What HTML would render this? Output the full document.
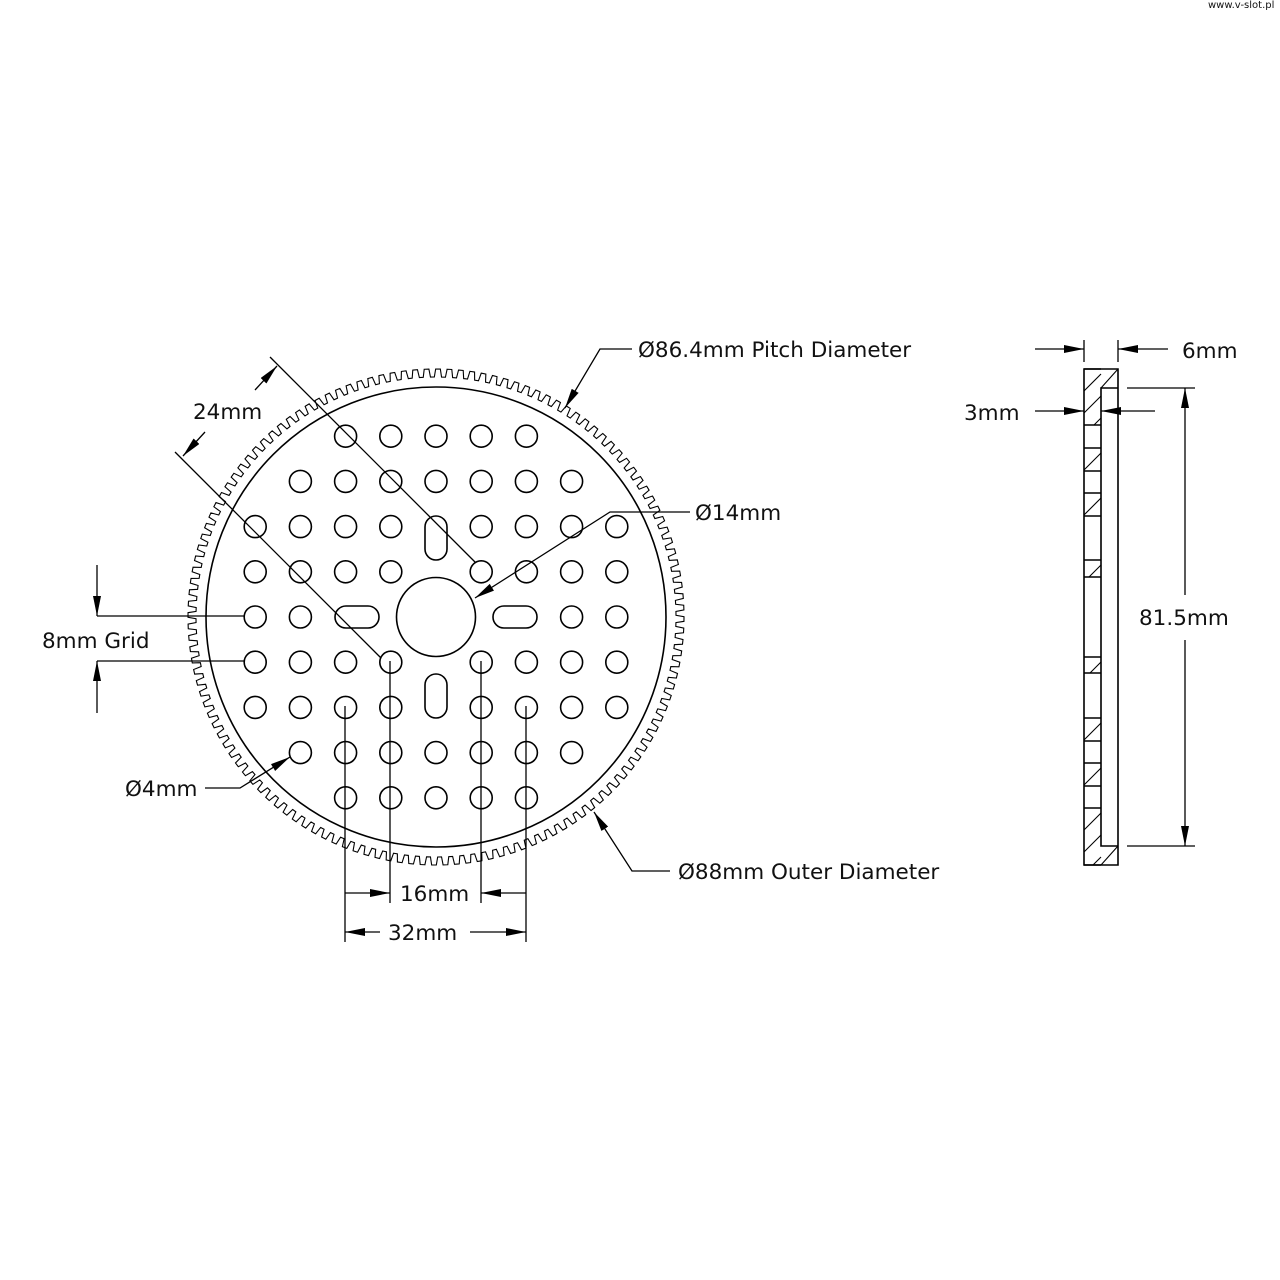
<!DOCTYPE html>
<html><head><meta charset="utf-8"><style>
html,body{margin:0;padding:0;background:#fff;}
svg{display:block}
text{font-family:"DejaVu Sans","Liberation Sans",sans-serif;font-size:21.5px;fill:#111;}
</style></head><body>
<svg id="s" width="1280" height="1280" viewBox="0 0 1280 1280" xmlns="http://www.w3.org/2000/svg">
<defs>
<marker id="a" viewBox="0 0 20 8" refX="20" refY="4" markerWidth="20" markerHeight="8" markerUnits="userSpaceOnUse" orient="auto"><path d="M0,0 L20,4 L0,8 z" fill="#000"/></marker>
</defs>
<text x="1208" y="8" style="font-size:10px">www.v-slot.pl</text>
<g id="g" fill="none" stroke="#000" stroke-width="1.6"></g>
<g fill="none" stroke="#000" stroke-width="1.3">
<line x1="270" y1="357" x2="476" y2="563"/>
<line x1="175" y1="452" x2="381" y2="658"/>
<line x1="255" y1="390" x2="277" y2="366" marker-end="url(#a)"/>
<line x1="205" y1="432" x2="183" y2="456" marker-end="url(#a)"/>
<line x1="97" y1="616" x2="245" y2="616"/>
<line x1="97" y1="661" x2="245" y2="661"/>
<line x1="97" y1="565" x2="97" y2="616" marker-end="url(#a)"/>
<line x1="97" y1="713" x2="97" y2="661" marker-end="url(#a)"/>
<line x1="345" y1="706" x2="345" y2="942"/>
<line x1="390" y1="661" x2="390" y2="903"/>
<line x1="481" y1="661" x2="481" y2="903"/>
<line x1="526" y1="706" x2="526" y2="942"/>
<line x1="345" y1="893" x2="390" y2="893" marker-end="url(#a)"/>
<line x1="526" y1="893" x2="481" y2="893" marker-end="url(#a)"/>
<line x1="380" y1="932" x2="345" y2="932" marker-end="url(#a)"/>
<line x1="470" y1="932" x2="526" y2="932" marker-end="url(#a)"/>
<polyline points="205,788 240,788 290,757" marker-end="url(#a)"/>
<polyline points="690,512 610,512 475,598" marker-end="url(#a)"/>
<polyline points="632,349 600,349 565,408" marker-end="url(#a)"/>
<polyline points="670,871 632,871 594,812" marker-end="url(#a)"/>
<line x1="1084" y1="340" x2="1084" y2="362"/>
<line x1="1118" y1="340" x2="1118" y2="362"/>
<line x1="1035" y1="349" x2="1084" y2="349" marker-end="url(#a)"/>
<line x1="1168" y1="349" x2="1118" y2="349" marker-end="url(#a)"/>
<line x1="1035" y1="411" x2="1084" y2="411" marker-end="url(#a)"/>
<line x1="1155" y1="411" x2="1101" y2="411" marker-end="url(#a)"/>
<line x1="1127" y1="388" x2="1195" y2="388"/>
<line x1="1127" y1="846" x2="1195" y2="846"/>
<line x1="1185" y1="595" x2="1185" y2="388" marker-end="url(#a)"/>
<line x1="1185" y1="640" x2="1185" y2="846" marker-end="url(#a)"/>
</g>
<g id="side" fill="none" stroke="#000" stroke-width="1.6"></g>
<text x="193" y="419">24mm</text>
<text x="42" y="648">8mm Grid</text>
<text x="400" y="901">16mm</text>
<text x="388" y="940">32mm</text>
<text x="125" y="796">Ø4mm</text>
<text x="695" y="520">Ø14mm</text>
<text x="638" y="357">Ø86.4mm Pitch Diameter</text>
<text x="678" y="879">Ø88mm Outer Diameter</text>
<text x="1182" y="358">6mm</text>
<text x="964" y="420">3mm</text>
<text x="1139" y="625">81.5mm</text>
</svg>
<script>
var NS="http://www.w3.org/2000/svg",g=document.getElementById('g'),cx=436,cy=617;
function el(t,a,p){var e=document.createElementNS(NS,t);for(var k in a)e.setAttribute(k,a[k]);(p||g).appendChild(e);return e;}
var N=136,d="",Ro=248,Rr=240;
function pt(r,t){return (cx+r*Math.cos(t)).toFixed(2)+","+(cy+r*Math.sin(t)).toFixed(2);}
for(var i=0;i<N;i++){var t0=2*Math.PI*i/N,p=2*Math.PI/N;
 var a=[[Ro,t0],[Ro,t0+p*0.38],[Rr,t0+p*0.5],[Rr,t0+p*0.85],[Ro,t0+p*0.97]];
 a.forEach(function(q,j){d+=(i==0&&j==0?"M":"L")+pt(q[0],q[1]);});}
d+="Z";el('path',{d:d,'stroke-width':1.1});
el('circle',{cx:cx,cy:cy,r:230});
el('circle',{cx:cx,cy:cy,r:39.5});
var S=45.2,rows={"-4":[-2,2],"-3":[-3,3],"-2":[-4,4],"-1":[-4,4],"0":[-4,4],"1":[-4,4],"2":[-4,4],"3":[-3,3],"4":[-2,2]};
for(var r=-4;r<=4;r++){var rg=rows[r];for(var c=rg[0];c<=rg[1];c++){
 if(c==0&&(r>=-2&&r<=2))continue;
 if(r==0&&(c==-1||c==-2||c==1||c==2))continue;
 el('circle',{cx:cx+c*S,cy:cy+r*S,r:11});}}
el('rect',{x:cx-11,y:cy-79-22,width:22,height:44,rx:11});
el('rect',{x:cx-11,y:cy+79-22,width:22,height:44,rx:11});
el('rect',{x:cx-79-22,y:cy-11,width:44,height:22,rx:11});
el('rect',{x:cx+79-22,y:cy-11,width:44,height:22,rx:11});
var s=document.getElementById('side');
el('path',{d:"M1084,369 L1118,369 L1118,865 L1084,865 Z"},s);
el('path',{d:"M1118,388 L1101,388 L1101,846 L1118,846"},s);
var solid=[[369,425],[448,471],[493,516],[560,577],[657,673],[718,741],[763,786],[808,865]];
solid.forEach(function(q){
 el('line',{x1:1084,y1:q[0],x2:1101,y2:q[0]},s);el('line',{x1:1084,y1:q[1],x2:1101,y2:q[1]},s);
 for(var y=q[0]+22;y<q[1]+17;y+=22){var y1=Math.min(y,q[1]),x1=1084+(y-y1);var y2=Math.max(y-17,q[0]),x2=1101-(y2-(y-17));
  el('line',{x1:x1,y1:y1,x2:x2,y2:y2,'stroke-width':1.1},s);}
});
el('line',{x1:1101,y1:388,x2:1118,y2:369,'stroke-width':1.1},s);
el('line',{x1:1101,y1:865,x2:1118,y2:846,'stroke-width':1.1},s);
</script>
</body></html>
